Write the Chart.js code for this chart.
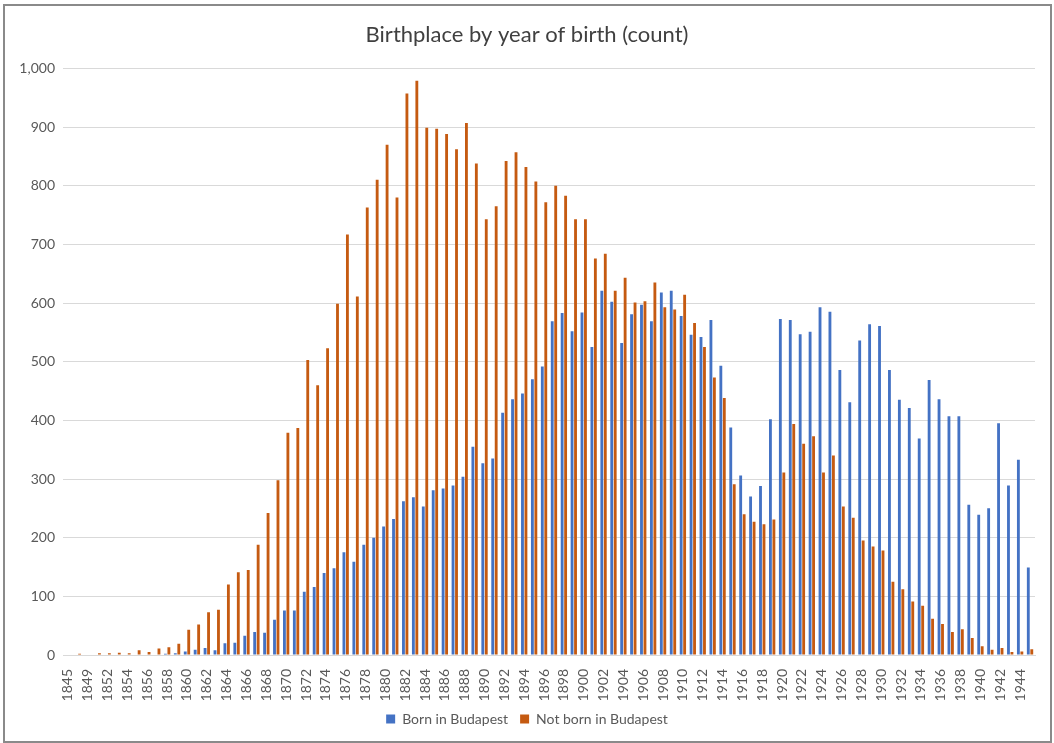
<!DOCTYPE html>
<html>
<head>
<meta charset="utf-8">
<script src="https://cdn.jsdelivr.net/npm/chart.js@4.4.0/dist/chart.umd.min.js"></script>
<style>
  html, body { margin: 0; padding: 0; background: #fff; }
  #frame {
    position: absolute; left: 3px; top: 4px; width: 1045px; height: 735px;
    border: 2px solid #8a8a8a;
  }
  #wrap { position: absolute; left: 0; top: 0; width: 1054px; height: 743px; }
</style>
</head>
<body>
<div id="frame"></div>
<div id="wrap"><canvas id="birthChart"></canvas></div>
<script>
// 연도 (1847, 1851 은 라벨이 숨겨져 있음)
const years = [1845, 1847, 1849, 1851];
for (let y = 1852; y <= 1945; y++) years.push(y);

const bornInBudapest = [
  0, 0, 0, 0, 0, 1, 0, 0, 0, 0, 2, 3,
  6, 9, 12, 8, 20, 21, 33, 39, 38, 60,
  76, 76, 108, 116, 140, 148, 175, 159, 188, 200,
  219, 232, 262, 269, 253, 281, 284, 289, 304, 355,
  327, 335, 413, 436, 446, 470, 492, 569, 583, 552,
  584, 525, 621, 602, 532, 581, 597, 569, 618, 621,
  578, 546, 542, 571, 493, 388, 306, 270, 288, 402,
  573, 571, 547, 551, 593, 585, 486, 431, 536, 564,
  561, 486, 435, 421, 369, 469, 436, 407, 407, 256,
  239, 250, 395, 289, 333, 149
];

const notBornInBudapest = [
  0, 2, 0, 3, 3, 4, 3, 8, 5, 11, 13, 19,
  43, 52, 73, 77, 120, 141, 145, 188, 242, 298,
  379, 387, 503, 460, 523, 599, 717, 611, 763, 810,
  870, 780, 957, 979, 899, 897, 888, 862, 907, 838,
  743, 765, 842, 857, 832, 807, 772, 800, 783, 743,
  743, 676, 684, 621, 643, 601, 603, 635, 593, 589,
  614, 566, 525, 473, 438, 291, 240, 227, 223, 231,
  311, 394, 360, 373, 311, 340, 253, 234, 195, 185,
  178, 125, 112, 91, 84, 62, 53, 39, 44, 29,
  15, 9, 12, 5, 6, 10
];

const yTicks = [0, 100, 200, 300, 400, 500, 600, 700, 800, 900, 1000];

const FONT = "Lato, 'Open Sans', sans-serif";
const TEXT = "#595959";

const ctx = document.getElementById("birthChart").getContext("2d");
new Chart(ctx, {
  type: "bar",
  data: {
    labels: years.map(String),
    datasets: [
      {
        label: "Born in Budapest",
        data: bornInBudapest,
        backgroundColor: "#4472C4",
        borderWidth: 0,
      },
      {
        label: "Not born in Budapest",
        data: notBornInBudapest,
        backgroundColor: "#C55A11",
        borderWidth: 0,
      },
    ],
  },
  options: {
    responsive: true,
    maintainAspectRatio: false,
    animation: false,
    datasets: {
      bar: { categoryPercentage: 0.7, barPercentage: 0.82 },
    },
    layout: { padding: { left: 19, right: 19, top: 0, bottom: 7 } },
    scales: {
      x: {
        afterFit(scale) {
          scale.height = 45;
        },
        grid: { display: false },
        border: { display: true, color: "#d9d9d9", width: 1 },
        ticks: {
          autoSkip: false,
          minRotation: 90,
          maxRotation: 90,
          padding: 6,
          color: TEXT,
          font: { family: FONT, size: 14 },
          callback(value, index) {
            return index % 2 === 0 ? this.getLabelForValue(value) : "";
          },
        },
      },
      y: {
        min: 0,
        max: 1000,
        afterFit(scale) {
          scale.width = 44;
        },
        afterBuildTicks(scale) {
          scale.ticks = yTicks.map((v) => ({ value: v }));
        },
        border: { display: false },
        grid: { color: "#d9d9d9", lineWidth: 1, drawTicks: false },
        ticks: {
          padding: 8,
          color: TEXT,
          font: { family: FONT, size: 14 },
          callback: (v) => v.toLocaleString("en-US"),
        },
      },
    },
    plugins: {
      title: {
        display: true,
        text: "Birthplace by year of birth (count)",
        color: "#404040",
        font: { family: FONT, size: 22, weight: "normal" },
        padding: { top: 22, bottom: 20 },
      },
      legend: {
        position: "bottom",
        labels: {
          boxWidth: 9,
          boxHeight: 9,
          padding: 12,
          color: TEXT,
          font: { family: FONT, size: 14 },
        },
      },
      tooltip: { enabled: false },
    },
  },
});
</script>
</body>
</html>
